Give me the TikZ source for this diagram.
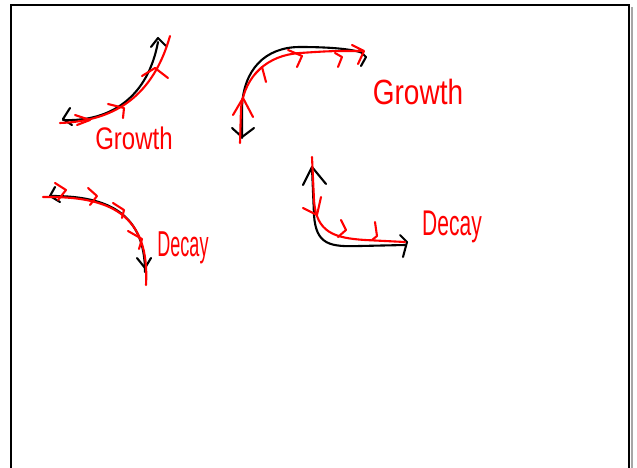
\documentclass[tikz,border=0pt]{standalone}
\usepackage{fontspec}
\setmainfont{Liberation Sans}
\begin{document}
\begin{tikzpicture}[x=1pt,y=-1pt,
  blk/.style={draw=black,line width=2.1pt,line cap=round,line join=round},
  rd/.style={draw=red,line width=2.1pt,line cap=round,line join=round},
  lbl/.style={text=red,inner sep=0pt}]
\useasboundingbox (0,0) rectangle (637,468);
\fill[white] (0,0) rectangle (637,468);
% frame
\draw[gray!70,line width=2pt] (631.5,7) -- (631.5,468);
\draw[black,line width=2pt] (11,468) -- (11,5) -- (629,5) -- (629,468);

% ---- sketch 1: growth (top left)
\draw[blk] (63,120) .. controls (112,122) and (148,96) .. (158,42);
\draw[blk] (70,108) -- (63,119) -- (72,125);
\draw[blk] (151,47) -- (158,38) -- (166,46);
\draw[rd] (60,123) .. controls (115,121) and (153,96) .. (170,36);
\draw[rd] (75,115) -- (90,120) -- (77,125);
\draw[rd] (108,104) -- (124,108) -- (123,118);
\draw[rd] (142,76) -- (155,68) -- (168,78);
\node[lbl,font=\fontsize{24}{24}\selectfont,yscale=1.3] (g1) at (134,138) {Growth};

% ---- sketch 2: growth (top middle)
\draw[blk] (242,138) -- (242,108) .. controls (243,70) and (265,47) .. (300,47) .. controls (330,47) and (352,49) .. (363,53);
\draw[blk] (232,128) -- (242,137) -- (254,128);
\draw[blk] (359,50) -- (366,57) -- (361,66);
\draw[rd] (240,143) -- (241,108) .. controls (245,75) and (268,55) .. (300,53) .. controls (330,51) .. (362,51);
\draw[rd] (233,115) -- (243,98) -- (253,117);
\draw[rd] (255,74) -- (262,67) -- (266,82);
\draw[rd] (288,50) -- (302,56) -- (297,67);
\draw[rd] (335,53) -- (342,57) -- (338,67);
\draw[rd] (352,45) -- (364,51) -- (358,64);
\node[lbl,font=\fontsize{28}{28}\selectfont,yscale=1.25] (g2) at (418,92) {Growth};

% ---- sketch 3: decay (bottom left)
\draw[blk] (52,196) .. controls (110,196) and (145,215) .. (145,272);
\draw[blk] (55,187) -- (50,196) -- (60,202);
\draw[blk] (137,258) -- (145,268) -- (151,258);
\draw[rd] (43,197) .. controls (110,196) and (150,214) .. (146,285);
\draw[rd] (55,183) -- (66,190) -- (58,200);
\draw[rd] (88,188) -- (97,196) -- (90,205);
\draw[rd] (113,203) -- (124,210) -- (122,218);
\draw[rd] (128,231) -- (142,239) -- (139,249);
\node[lbl,font=\fontsize{18}{18}\selectfont,yscale=2] (d1) at (183,248) {Decay};

% ---- sketch 4: decay (middle)
\draw[blk] (312,168) -- (314,215) .. controls (316,245) and (330,247) .. (360,246) -- (405,245);
\draw[blk] (303,185) -- (312,167) -- (326,184);
\draw[blk] (400,235) -- (407,242) -- (403,257);
\draw[rd] (312,157) -- (314,200) .. controls (316,233) and (335,238) .. (365,240) -- (405,242);
\draw[rd] (303,208) -- (317,215) -- (321,197);
\draw[rd] (341,220) -- (346,230) -- (338,237);
\draw[rd] (375,222) -- (377,236) -- (372,240);
\node[lbl,font=\fontsize{21}{21}\selectfont,yscale=1.7] (d2) at (452,227) {Decay};
\end{tikzpicture}
\end{document}
